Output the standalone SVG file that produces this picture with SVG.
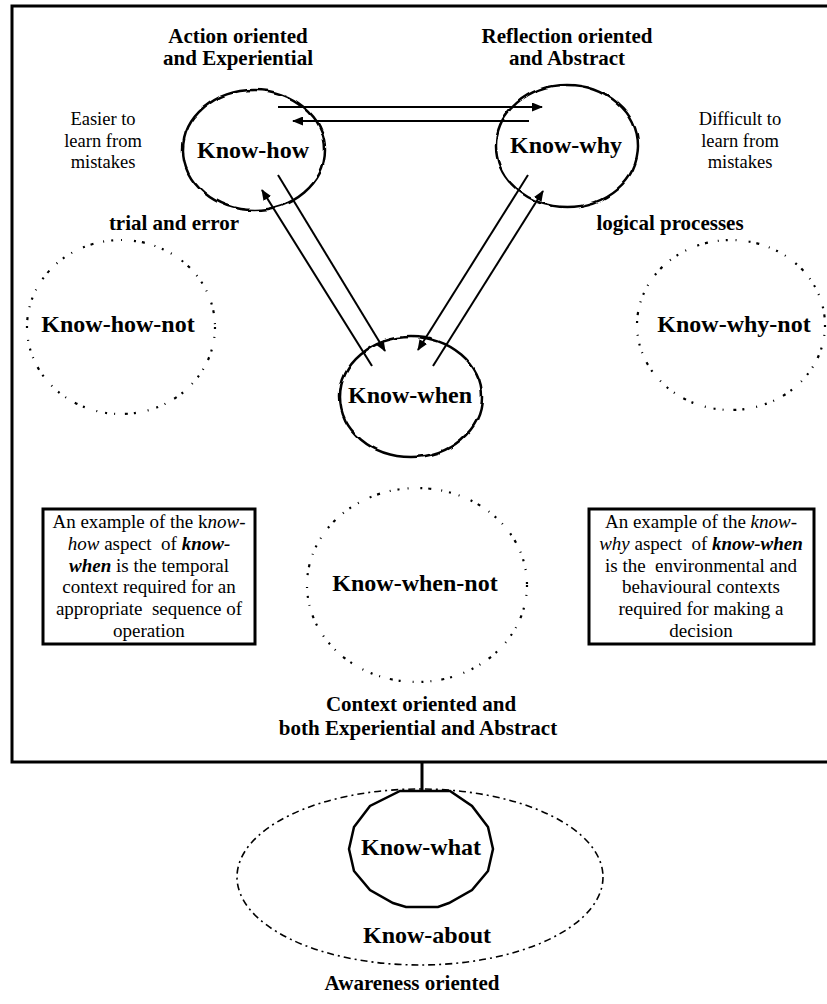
<svg xmlns="http://www.w3.org/2000/svg" width="827" height="1004" viewBox="0 0 827 1004">
<style>
.frame{fill:none;stroke:#000;stroke-width:3}
.blob{fill:none;stroke:#000;stroke-width:2.5}
.dots{fill:none;stroke:#000;stroke-width:2.2;stroke-dasharray:2 8 1 12 2 6 3 10 1 7}
.dashdot{fill:none;stroke:#000;stroke-width:1.6;stroke-dasharray:7 4 2 4}
.conn{fill:none;stroke:#000;stroke-width:2}
.box{fill:none;stroke:#000;stroke-width:3}
text{font-family:"Liberation Serif","Times New Roman",serif;fill:#000;text-anchor:middle}
.lbl{font-size:21px;font-weight:bold}
.node{font-size:24px;font-weight:bold}
.note{font-size:18.5px}
.bt{font-size:19px}
.i{font-style:italic}
.bi{font-style:italic;font-weight:bold}
</style>
<defs>
<marker id="ah" markerWidth="11" markerHeight="9" refX="10" refY="4.5" orient="auto" markerUnits="userSpaceOnUse"><path d="M0,0 L11,4.5 L0,9 z" fill="#000"/></marker>
<filter id="wob" x="-10%" y="-10%" width="120%" height="120%"><feTurbulence type="fractalNoise" baseFrequency="0.07" numOctaves="1" seed="4"/><feDisplacementMap in="SourceGraphic" scale="4" xChannelSelector="R" yChannelSelector="G"/></filter>
</defs>
<rect class="frame" x="12" y="6" width="830" height="756"/>
<g id="labels">
<text class="lbl" x="238" y="43">Action oriented</text>
<text class="lbl" x="238" y="65">and Experiential</text>
<text class="lbl" x="567" y="43">Reflection oriented</text>
<text class="lbl" x="567" y="65">and Abstract</text>
<text class="note" x="103" y="125">Easier to</text>
<text class="note" x="103" y="147">learn from</text>
<text class="note" x="103" y="168">mistakes</text>
<text class="note" x="740" y="125">Difficult to</text>
<text class="note" x="740" y="147">learn from</text>
<text class="note" x="740" y="168">mistakes</text>
<text class="lbl" x="174" y="230">trial and error</text>
<text class="lbl" x="670" y="230">logical processes</text>
<text class="lbl" x="421" y="711">Context oriented and</text>
<text class="lbl" x="418" y="735">both Experiential and Abstract</text>
<text class="lbl" x="412" y="990">Awareness oriented</text>
</g>
<g id="know-how"><ellipse class="blob" filter="url(#wob)" cx="254" cy="150" rx="71" ry="60"/><text class="node" x="253" y="158">Know-how</text></g>
<g id="know-why"><ellipse class="blob" filter="url(#wob)" cx="567" cy="146" rx="71" ry="61"/><text class="node" x="566" y="153">Know-why</text></g>
<g id="know-when"><ellipse class="blob" filter="url(#wob)" cx="411" cy="397" rx="71" ry="60"/><text class="node" x="410" y="403">Know-when</text></g>
<g id="know-how-not"><ellipse class="dots" cx="121" cy="327" rx="94" ry="87"/><text class="node" x="118" y="332">Know-how-not</text></g>
<g id="know-why-not"><ellipse class="dots" cx="731" cy="325" rx="94" ry="85"/><text class="node" x="734" y="332">Know-why-not</text></g>
<g id="know-when-not"><ellipse class="dots" cx="417" cy="585" rx="110" ry="97"/><text class="node" x="415" y="591">Know-when-not</text></g>
<g id="box-left">
<rect class="box" x="43" y="509" width="212" height="135"/>
<text class="bt" x="149" y="528">An example of the k<tspan class="i">now-</tspan></text>
<text class="bt" x="149" y="550" xml:space="preserve"><tspan class="i">how</tspan> aspect  of <tspan class="bi">know-</tspan></text>
<text class="bt" x="149" y="572"><tspan class="bi">when</tspan> is the temporal</text>
<text class="bt" x="149" y="593">context required for an</text>
<text class="bt" x="149" y="615" xml:space="preserve">appropriate  sequence of</text>
<text class="bt" x="149" y="637">operation</text>
</g>
<g id="box-right">
<rect class="box" x="589" y="509" width="225" height="135"/>
<text class="bt" x="701" y="528">An example of the <tspan class="i">know-</tspan></text>
<text class="bt" x="701" y="550" xml:space="preserve"><tspan class="i">why</tspan> aspect  of <tspan class="bi">know-when</tspan></text>
<text class="bt" x="701" y="572" xml:space="preserve">is the  environmental and</text>
<text class="bt" x="701" y="593">behavioural contexts</text>
<text class="bt" x="701" y="615">required for making a</text>
<text class="bt" x="701" y="637">decision</text>
</g>
<g id="know-about"><ellipse class="dashdot" cx="420" cy="877" rx="183" ry="88"/><text class="node" x="427" y="943">Know-about</text></g>
<g id="know-what"><path class="blob" d="M400,791 L450,791 L472,806 L488,827 L493,849 L488,871 L472,890 L449,903 L438,907 L406,907 L393,903 L370,890 L354,871 L349,849 L354,827 L370,806 Z"/><text class="node" x="421" y="855">Know-what</text></g>
<g id="connectors">
<path class="conn" d="M278,107 L542,107" marker-end="url(#ah)"/>
<path class="conn" d="M529,121 L293,121" marker-end="url(#ah)"/>
<path class="conn" d="M278,175 L385,351" marker-end="url(#ah)"/>
<path class="conn" d="M372,366 L262,190" marker-end="url(#ah)"/>
<path class="conn" d="M528,175 L418,350" marker-end="url(#ah)"/>
<path class="conn" d="M433,366 L543,191" marker-end="url(#ah)"/>
<path class="conn" style="stroke-width:3" d="M422,762 L422,791"/>
</g>
</svg>
